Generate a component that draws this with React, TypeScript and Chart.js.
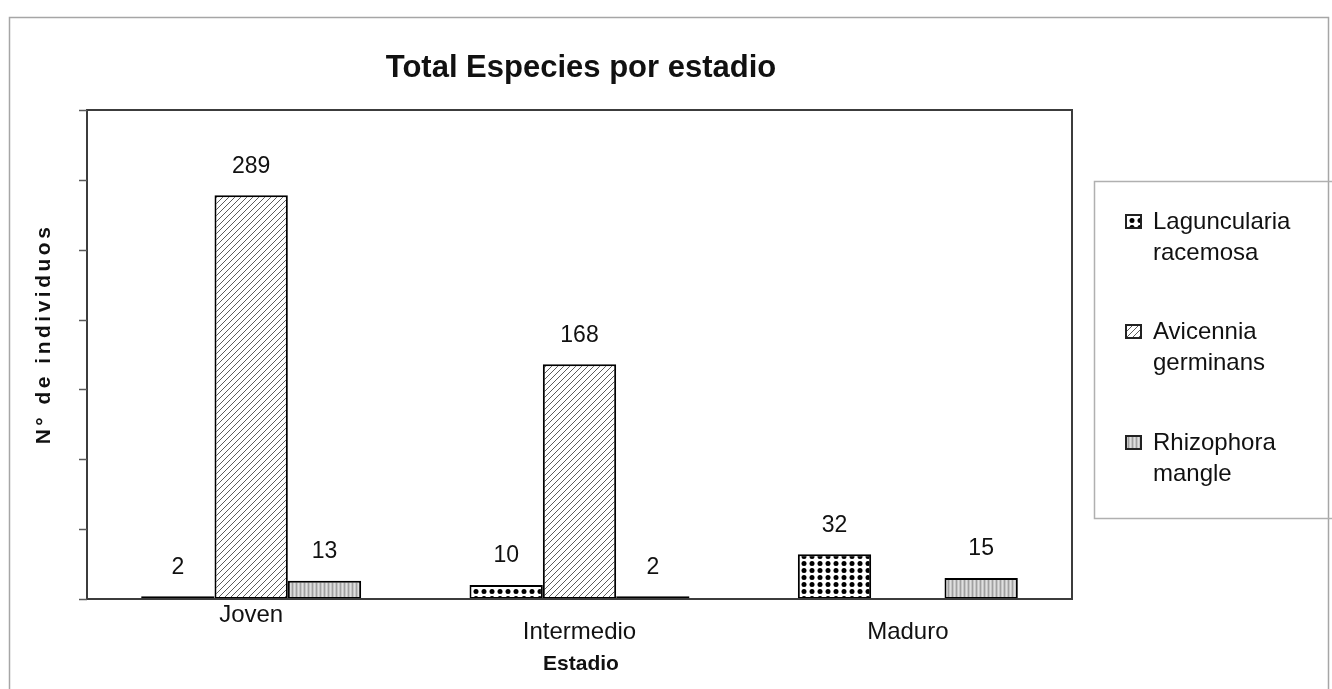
import { useEffect, useRef } from "react";
import { Chart, registerables } from "chart.js";

Chart.register(...registerables);

// ---- data ----
const stages = ["Joven", "Intermedio", "Maduro"];
const species = ["Laguncularia racemosa", "Avicennia germinans", "Rhizophora mangle"];
const laguncularia: (number | null)[] = [2, 10, 32];
const avicennia: (number | null)[] = [289, 168, null];
const rhizophora: (number | null)[] = [13, 2, 15];
const yTicks = [0, 50, 100, 150, 200, 250, 300, 350];
const chartTitle = "Total Especies por estadio";
const xTitle = "Estadio";
const yTitle = "N° de individuos";

// ---- style ----
const FONT = "'Liberation Sans', Arial, sans-serif";
const W = 1332;
const H = 689;
const tickLabelDrop = [16, 33, 33];

type Kind = "dots" | "hatch" | "stripes";

function makePattern(ctx: CanvasRenderingContext2D, kind: Kind): CanvasPattern | string {
  const c = document.createElement("canvas");
  const g = c.getContext("2d");
  if (!g) return "#999";
  if (kind === "dots") {
    c.width = 8;
    c.height = 7;
    g.fillStyle = "#ffffff";
    g.fillRect(0, 0, 8, 7);
    g.fillStyle = "#000000";
    g.beginPath();
    g.arc(4, 3.5, 2.5, 0, Math.PI * 2);
    g.fill();
  } else if (kind === "hatch") {
    c.width = 6;
    c.height = 6;
    g.fillStyle = "#ffffff";
    g.fillRect(0, 0, 6, 6);
    g.strokeStyle = "#5c5c5c";
    g.lineWidth = 1;
    g.beginPath();
    g.moveTo(0, 6);
    g.lineTo(6, 0);
    g.moveTo(-1, 1);
    g.lineTo(1, -1);
    g.moveTo(5, 7);
    g.lineTo(7, 5);
    g.stroke();
  } else {
    c.width = 4;
    c.height = 4;
    g.fillStyle = "#c6c6c6";
    g.fillRect(0, 0, 4, 4);
    g.fillStyle = "#a0a0a0";
    g.fillRect(0, 0, 1, 4);
    g.fillStyle = "#e0e0e0";
    g.fillRect(2, 0, 1, 4);
  }
  return ctx.createPattern(c, "repeat") || "#999";
}

export default function App() {
  const canvasRef = useRef<HTMLCanvasElement | null>(null);

  useEffect(() => {
    const canvas = canvasRef.current;
    if (!canvas) return;
    const ctx = canvas.getContext("2d");
    if (!ctx) return;

    const fills = [
      makePattern(ctx, "dots"),
      makePattern(ctx, "hatch"),
      makePattern(ctx, "stripes"),
    ];
    const series = [laguncularia, avicennia, rhizophora];

    const decor = {
      id: "decor",
      beforeDraw(chart: Chart) {
        const c = chart.ctx;
        c.save();
        c.fillStyle = "#ffffff";
        c.fillRect(0, 0, W, H);
        c.restore();
      },
      afterDatasetsDraw(chart: Chart) {
        const c = chart.ctx;
        const a = chart.chartArea;
        const xs = chart.scales.x;
        const ys = chart.scales.y;
        c.save();

        // outer frame
        c.strokeStyle = "#a6a6a6";
        c.lineWidth = 1.5;
        c.strokeRect(9.5, 17.5, 1319, 700);

        // plot frame
        c.strokeStyle = "#3c3c3c";
        c.lineWidth = 2;
        c.strokeRect(a.left, a.top, a.right - a.left, a.bottom - a.top);

        // y tick marks
        c.strokeStyle = "#5a5a5a";
        c.lineWidth = 1.5;
        yTicks.forEach((v) => {
          const py = Math.round(ys.getPixelForValue(v)) + 0.5;
          c.beginPath();
          c.moveTo(a.left - 8, py);
          c.lineTo(a.left, py);
          c.stroke();
        });

        // value labels
        c.font = `23px ${FONT}`;
        c.fillStyle = "#111111";
        c.textAlign = "center";
        c.textBaseline = "middle";
        chart.data.datasets.forEach((ds, i) => {
          const meta = chart.getDatasetMeta(i);
          meta.data.forEach((bar: any, j: number) => {
            const v = ds.data[j] as number | null;
            if (v == null) return;
            c.fillText(String(v), bar.x, bar.y - 29);
          });
        });

        // category labels
        c.font = `24px ${FONT}`;
        stages.forEach((s, j) => {
          const px = xs.getPixelForValue(j);
          c.fillText(s, px, a.bottom + tickLabelDrop[j]);
        });

        // title
        c.font = `bold 31px ${FONT}`;
        c.fillText(chartTitle, 581, 68);

        // x axis title
        c.font = `bold 21px ${FONT}`;
        c.fillText(xTitle, 581, 664);

        // y axis title
        c.save();
        c.translate(44, 336);
        c.rotate(-Math.PI / 2);
        (c as any).letterSpacing = "3.5px";
        c.font = `bold 21px ${FONT}`;
        c.fillText(yTitle, 2, 0);
        c.restore();

        // legend
        c.strokeStyle = "#b0b0b0";
        c.lineWidth = 1.5;
        c.strokeRect(1094.5, 181.5, 260, 337);
        const rowY = [222, 332, 443];
        c.font = `24px ${FONT}`;
        c.textAlign = "left";
        species.forEach((name, i) => {
          const y0 = rowY[i];
          c.fillStyle = fills[i] as any;
          c.fillRect(1126, y0 - 7, 15, 13);
          c.strokeStyle = "#222222";
          c.lineWidth = 2;
          c.strokeRect(1126, y0 - 7, 15, 13);
          c.fillStyle = "#111111";
          name.split(" ").forEach((part, k) => {
            c.fillText(part, 1153, y0 + k * 31);
          });
        });

        c.restore();
      },
    };

    const chart = new Chart(ctx, {
      type: "bar",
      data: {
        labels: stages,
        datasets: species.map((name, i) => ({
          label: name,
          data: series[i],
          backgroundColor: fills[i] as any,
          borderColor: "#000000",
          borderWidth: 2,
          borderSkipped: false,
          categoryPercentage: 0.67,
          barPercentage: 1,
        })),
      },
      options: {
        responsive: false,
        animation: false,
        devicePixelRatio: 1,
        layout: { padding: { left: 87, top: 110, right: W - 1072, bottom: H - 599 } },
        plugins: {
          legend: { display: false },
          title: { display: false },
          tooltip: { enabled: false },
        },
        scales: {
          x: {
            ticks: { display: false },
            grid: { display: false, drawTicks: false },
            border: { display: false },
          },
          y: {
            min: 0,
            max: 350,
            ticks: { display: false, stepSize: 50 },
            grid: { display: false, drawTicks: false },
            border: { display: false },
          },
        },
      },
      plugins: [decor],
    });

    return () => chart.destroy();
  }, []);

  return (
    <div style={{ position: "fixed", left: 0, top: 0, width: W, height: H, background: "#fff" }}>
      <canvas ref={canvasRef} width={W} height={H} style={{ display: "block", width: W, height: H }} />
    </div>
  );
}
